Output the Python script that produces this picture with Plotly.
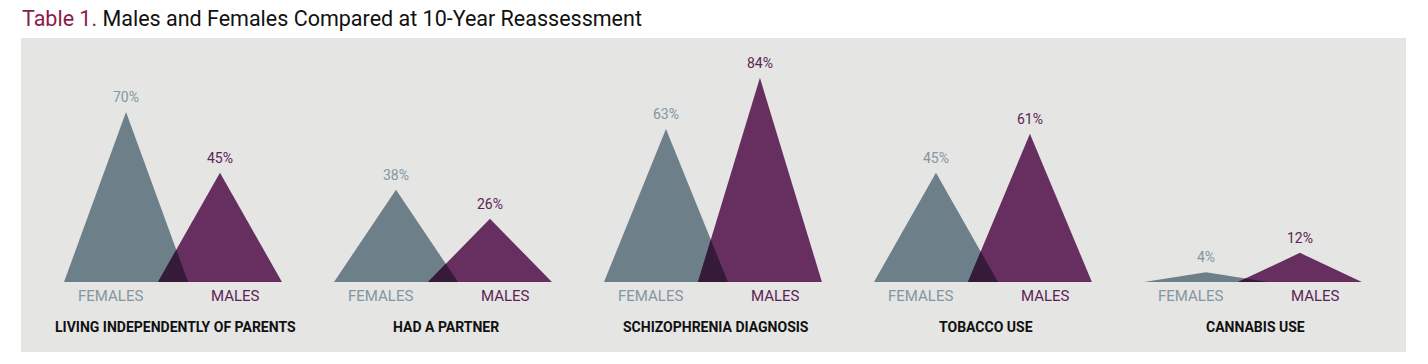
import plotly.graph_objects as go

categories = ["LIVING INDEPENDENTLY OF PARENTS", "HAD A PARTNER", "SCHIZOPHRENIA DIAGNOSIS",
              "TOBACCO USE", "CANNABIS USE"]
females = [70, 38, 63, 45, 4]
males = [45, 26, 84, 61, 12]
female_label = "FEMALES"
male_label = "MALES"

F_COL = "#6d7f89"
M_COL = "#672e60"
O_COL = "#351a3a"
F_TXT = "#8396a2"
M_TXT = "#5b2457"
BG = "#e5e5e3"

OFF = 0.174   # apex offset from group centre (x units)
HW = 0.2296   # half base width
LBL = 0.232

BOLD = "Roboto, DejaVu Sans, sans-serif"
DIN = "Roboto, DejaVu Sans, sans-serif"

fig = go.Figure()
ann = []
for i, (cat, f, m) in enumerate(zip(categories, females, males)):
    fA, mA = i - OFF, i + OFF
    fL, fR = fA - HW, fA + HW
    mL, mR = mA - HW, mA + HW
    fig.add_trace(go.Scatter(x=[fL, fA, fR, fL], y=[0, f, 0, 0], fill="toself", fillcolor=F_COL,
                             mode="lines", line=dict(width=0, color=F_COL), hoverinfo="skip", showlegend=False))
    fig.add_trace(go.Scatter(x=[mL, mA, mR, mL], y=[0, m, 0, 0], fill="toself", fillcolor=M_COL,
                             mode="lines", line=dict(width=0, color=M_COL), hoverinfo="skip", showlegend=False))
    xi = (f * fR + m * mL) / (f + m)
    yi = m * (xi - mL) / HW
    fig.add_trace(go.Scatter(x=[mL, xi, fR, mL], y=[0, yi, 0, 0], fill="toself", fillcolor=O_COL,
                             mode="lines", line=dict(width=0, color=O_COL), hoverinfo="skip", showlegend=False))
    ann.append(dict(x=fA, y=f, text=f"{f}%", showarrow=False, yanchor="bottom", yshift=5,
                    font=dict(family=DIN, size=14, color=F_TXT)))
    ann.append(dict(x=mA, y=m, text=f"{m}%", showarrow=False, yanchor="bottom", yshift=5,
                    font=dict(family=DIN, size=14, color=M_TXT)))
    ann.append(dict(x=i - LBL, y=-5.9, text=female_label, showarrow=False, yanchor="middle",
                    font=dict(family=DIN, size=15, color=F_TXT)))
    ann.append(dict(x=i + LBL, y=-5.9, text=male_label, showarrow=False, yanchor="middle",
                    font=dict(family=DIN, size=15, color=M_TXT)))
    ann.append(dict(x=i + 0.01, y=-18.6, text=f"<b>{cat}</b>", showarrow=False, yanchor="middle",
                    font=dict(family=BOLD, size=14, color="#111111")))

ann.append(dict(xref="paper", yref="paper", x=0, y=1, xanchor="left", yanchor="middle", xshift=-1, yshift=20,
                text="<span style='color:#8c1a4c'>Table 1.</span> Males and Females Compared at 10-Year Reassessment",
                showarrow=False, font=dict(family="Roboto, sans-serif", size=21.5, color="#111111")))

fig.update_layout(
    width=1428, height=364,
    margin=dict(l=21, r=22, t=38, b=12),
    paper_bgcolor="white", plot_bgcolor=BG,
    xaxis=dict(range=[-0.563, 4.567], visible=False, fixedrange=True),
    yaxis=dict(range=[-28.8, 100.4], visible=False, fixedrange=True),
    annotations=ann,
    showlegend=False,
)

fig.write_html("out.html", config={"displayModeBar": False},
               post_script="document.body.style.margin='0';")
